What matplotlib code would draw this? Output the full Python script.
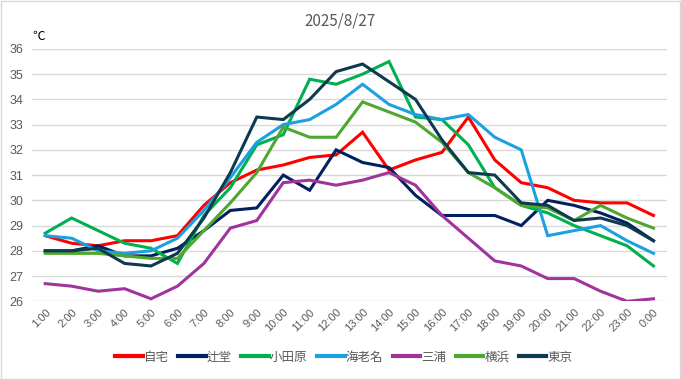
import matplotlib
matplotlib.use("Agg")
import matplotlib.pyplot as plt
from matplotlib.patches import Rectangle

plt.rcParams['font.family'] = ['Noto Sans CJK JP', 'DejaVu Sans']

hours = ["1:00", "2:00", "3:00", "4:00", "5:00", "6:00", "7:00", "8:00", "9:00", "10:00",
         "11:00", "12:00", "13:00", "14:00", "15:00", "16:00", "17:00", "18:00", "19:00",
         "20:00", "21:00", "22:00", "23:00", "0:00"]

jitaku = [28.6, 28.3, 28.2, 28.4, 28.4, 28.6, 29.8, 30.7, 31.2, 31.4, 31.7, 31.8,
          32.7, 31.2, 31.6, 31.9, 33.3, 31.6, 30.7, 30.5, 30.0, 29.9, 29.9, 29.4]
tsujido = [28.0, 28.0, 28.2, 27.8, 27.8, 28.1, 28.8, 29.6, 29.7, 31.0, 30.4, 32.0,
           31.5, 31.3, 30.2, 29.4, 29.4, 29.4, 29.0, 30.0, 29.8, 29.5, 29.1, 28.4]
odawara = [28.7, 29.3, 28.8, 28.3, 28.1, 27.5, 29.4, 30.5, 32.2, 32.6, 34.8, 34.6,
           35.0, 35.5, 33.3, 33.2, 32.2, 30.5, 29.8, 29.5, 29.0, 28.6, 28.2, 27.4]
ebina = [28.6, 28.5, 28.0, 27.9, 28.0, 28.5, 29.6, 30.9, 32.3, 33.0, 33.2, 33.8,
         34.6, 33.8, 33.4, 33.2, 33.4, 32.5, 32.0, 28.6, 28.8, 29.0, 28.4, 27.9]
miura = [26.7, 26.6, 26.4, 26.5, 26.1, 26.6, 27.5, 28.9, 29.2, 30.7, 30.8, 30.6,
         30.8, 31.1, 30.6, 29.4, 28.5, 27.6, 27.4, 26.9, 26.9, 26.4, 26.0, 26.1]
yokohama = [27.9, 27.9, 27.9, 27.8, 27.7, 27.7, 28.8, 29.9, 31.1, 32.9, 32.5, 32.5,
            33.9, 33.5, 33.1, 32.3, 31.1, 30.5, 29.8, 29.7, 29.2, 29.8, 29.3, 28.9]
tokyo = [28.0, 28.0, 28.1, 27.5, 27.4, 27.9, 29.3, 31.1, 33.3, 33.2, 34.0, 35.1,
         35.4, 34.7, 34.0, 32.4, 31.1, 31.0, 29.9, 29.8, 29.2, 29.3, 29.0, 28.4]

series = [
    ("自宅", jitaku, "#ff0000"),
    ("辻堂", tsujido, "#002060"),
    ("小田原", odawara, "#00b050"),
    ("海老名", ebina, "#1ba1e2"),
    ("三浦", miura, "#a0349c"),
    ("横浜", yokohama, "#4ea72e"),
    ("東京", tokyo, "#0e3a4f"),
]

fig = plt.figure(figsize=(6.81, 3.79), dpi=100)
ax = fig.add_axes([0.047, 0.205, 0.932, 0.666])

x = list(range(len(hours)))
for name, vals, col in series:
    ax.plot(x, vals, color=col, lw=2.2, label=name, solid_joinstyle="miter")

ax.set_xlim(-0.5, len(hours) - 0.5)
ax.set_ylim(26, 36)
ax.set_yticks(range(26, 37))
ax.set_xticks(x)
ax.set_xticklabels(hours, rotation=45, ha="right", rotation_mode="anchor",
                   fontsize=8, color="#595959", family="Liberation Sans")
for t in ax.get_yticklabels():
    t.set_family("Liberation Sans")
ax.tick_params(axis="y", labelsize=9, colors="#595959", length=0, pad=6)
ax.tick_params(axis="x", length=0, pad=4)
ax.grid(axis="y", color="#d9d9d9", lw=1)
ax.set_axisbelow(True)
for s in ax.spines.values():
    s.set_visible(False)

fig.text(0.5, 0.945, "2025/8/27", ha="center", va="center", fontsize=11, color="#595959")
fig.text(0.048, 0.905, "℃", ha="left", va="center", fontsize=9, color="black")

leg = fig.legend(loc="center", bbox_to_anchor=(0.505, 0.058), ncol=7, frameon=False,
                 fontsize=9, handlelength=2.2, handletextpad=0.1, columnspacing=0.75,
                 labelcolor="#595959")
for ln in leg.get_lines():
    ln.set_linewidth(3)

fig.patches.append(Rectangle((0.001, 0.001), 0.997, 0.997, transform=fig.transFigure,
                             fill=False, edgecolor="#d9d9d9", lw=1))

fig.savefig("out.png", dpi=100)
